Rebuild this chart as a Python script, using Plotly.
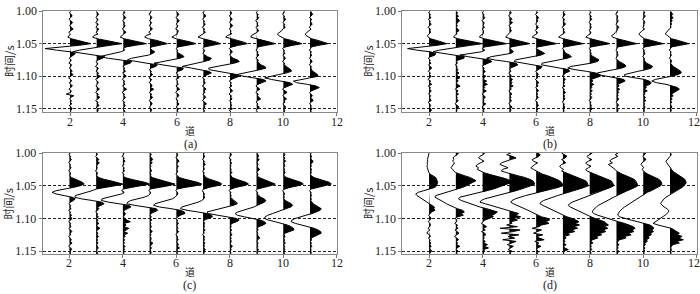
import numpy as np
import plotly.graph_objects as go

# ---------------- data ----------------
trace_numbers = [2, 3, 4, 5, 6, 7, 8, 9, 10, 11]
start_time = 1.0          # s
sample_interval = 0.0025  # s
x_tick_values = [2, 4, 6, 8, 10, 12]
x_tick_labels = ["2", "4", "6", "8", "10", "12"]
y_tick_values = [1.00, 1.05, 1.10, 1.15]
y_tick_labels = ["1.00", "1.05", "1.10", "1.15"]
panel_labels = ["(a)", "(b)", "(c)", "(d)"]
x_title = "道"
y_title = "时间/s"

# amplitudes (in trace-spacing units), 63 samples 1.000 ... 1.155 s, one list per trace 2..11
panel_a = [
    [0.02, -0.03, 0.05, 0.08, 0.02, -0.04, 0.03, 0.10, 0.04,
     -0.02, 0.06, 0.12, 0.03, -0.05, 0.02, -0.05, -0.08, 0.05,
     0.30, 0.58, 0.78, 0.35, -0.40, -0.93, -0.50, 0.02, 0.20,
     0.14, 0.03, -0.03, 0.05, 0.02, -0.04, 0.06, 0.03, -0.02,
     0.04, 0.08, 0.02, 0.12, 0.03, -0.05, 0.02, 0.06, -0.03,
     0.04, 0.09, 0.02, -0.04, 0.05, 0.02, -0.14, 0.14, 0.03,
     -0.02, 0.05, 0.02, 0.07, -0.03, 0.04, 0.08, 0.03, 0.02],
    [-0.02, 0.04, 0.07, 0.02, -0.03, 0.05, 0.03, -0.04, 0.06,
     0.02, -0.03, 0.08, 0.04, -0.02, 0.05, -0.10, -0.15, 0.02,
     0.35, 0.70, 0.95, 0.50, 0.05, -0.30, -0.65, -0.90, -0.55,
     -0.10, 0.30, 0.22, 0.05, -0.03, 0.04, 0.02, -0.05, 0.06,
     0.03, -0.02, 0.07, 0.02, 0.13, 0.04, -0.04, 0.03, 0.06,
     0.02, -0.03, 0.05, 0.10, 0.02, -0.04, 0.06, 0.03, 0.12,
     0.02, -0.04, 0.05, 0.03, 0.09, -0.02, 0.04, 0.06, 0.02],
    [0.03, 0.06, -0.02, 0.04, 0.09, 0.03, -0.03, 0.05, 0.02,
     0.07, 0.03, -0.04, 0.04, 0.10, 0.02, -0.06, -0.12, 0.04,
     0.32, 0.62, 0.87, 0.45, 0.10, 0.00, 0.05, -0.10, -0.35,
     -0.68, -0.90, -0.55, -0.10, 0.32, 0.25, 0.06, -0.02, 0.05,
     0.03, 0.08, -0.03, 0.04, 0.11, 0.02, -0.04, 0.05, 0.02,
     0.06, -0.03, 0.04, 0.12, 0.03, -0.05, 0.04, 0.02, 0.08,
     0.03, -0.03, 0.05, 0.02, 0.07, 0.03, -0.02, 0.04, 0.06],
    [0.05, 0.02, -0.04, 0.03, 0.07, 0.02, -0.02, 0.06, 0.03,
     -0.03, 0.04, 0.09, 0.02, -0.05, 0.03, -0.15, -0.20, -0.05,
     0.25, 0.48, 0.65, 0.35, 0.05, 0.02, 0.08, 0.18, 0.10,
     -0.05, -0.35, -0.70, -0.85, -0.55, -0.12, 0.28, 0.22, 0.05,
     -0.03, 0.05, 0.02, 0.10, 0.04, -0.04, 0.06, 0.02, -0.03,
     0.05, 0.08, 0.02, 0.14, 0.04, -0.03, 0.06, 0.03, 0.10,
     0.02, -0.04, 0.05, 0.08, 0.03, -0.02, 0.04, 0.06, 0.02],
    [-0.02, 0.04, 0.08, 0.03, -0.03, 0.05, 0.10, 0.03, -0.02,
     0.05, 0.02, -0.04, 0.06, 0.03, 0.02, -0.08, -0.18, -0.02,
     0.28, 0.52, 0.72, 0.38, 0.05, -0.03, 0.04, 0.02, 0.08,
     0.20, 0.28, 0.12, -0.22, -0.58, -0.85, -0.55, -0.10, 0.25,
     0.22, 0.06, -0.02, 0.05, 0.03, 0.09, -0.03, 0.04, 0.02,
     0.06, -0.03, 0.05, 0.11, 0.02, -0.04, 0.05, 0.08, 0.02,
     -0.03, 0.05, 0.02, 0.09, 0.03, -0.02, 0.06, 0.03, 0.04],
    [0.04, -0.02, 0.05, 0.09, 0.03, -0.03, 0.04, 0.02, 0.07,
     0.03, -0.04, 0.05, 0.02, 0.08, -0.03, -0.12, -0.20, 0.00,
     0.26, 0.48, 0.65, 0.33, 0.04, -0.02, 0.05, 0.03, -0.02,
     0.06, 0.15, 0.30, 0.25, 0.02, -0.30, -0.62, -0.80, -0.45,
     -0.05, 0.20, 0.30, 0.14, 0.03, -0.03, 0.05, 0.02, 0.07,
     0.03, -0.04, 0.05, 0.10, 0.02, 0.06, -0.02, 0.04, 0.09,
     0.02, -0.03, 0.05, 0.12, 0.03, 0.06, -0.02, 0.04, 0.03],
    [0.02, 0.06, 0.03, -0.03, 0.04, 0.08, 0.02, -0.02, 0.05,
     0.10, 0.03, -0.03, 0.04, 0.02, 0.06, -0.10, -0.16, 0.02,
     0.28, 0.50, 0.65, 0.32, 0.05, -0.03, 0.04, 0.09, 0.03,
     -0.02, 0.05, 0.12, 0.28, 0.35, 0.15, -0.20, -0.55, -0.80,
     -0.78, -0.40, 0.00, 0.25, 0.35, 0.18, 0.04, -0.03, 0.05,
     0.02, 0.07, -0.03, 0.04, 0.10, 0.02, -0.04, 0.05, 0.03,
     0.08, -0.02, 0.04, 0.03, 0.06, 0.02, 0.09, -0.03, 0.04],
    [0.03, -0.02, 0.06, 0.02, 0.08, 0.03, -0.04, 0.04, 0.02,
     0.06, -0.03, 0.03, 0.07, 0.02, -0.08, -0.20, -0.22, 0.02,
     0.30, 0.52, 0.70, 0.35, 0.05, 0.02, -0.03, 0.05, 0.03,
     0.08, 0.02, -0.03, 0.06, 0.04, 0.10, 0.15, 0.30, 0.35,
     0.12, -0.22, -0.55, -0.75, -0.50, -0.08, 0.25, 0.35, 0.18,
     0.04, -0.03, 0.05, 0.12, 0.02, -0.03, 0.06, 0.03, 0.08,
     0.15, 0.03, -0.02, 0.05, 0.02, 0.10, 0.03, -0.03, 0.04],
    [0.05, 0.02, -0.03, 0.04, 0.03, 0.09, 0.02, -0.02, 0.05,
     0.03, 0.07, -0.02, -0.06, -0.15, -0.22, -0.18, -0.08, 0.05,
     0.30, 0.52, 0.70, 0.35, 0.05, -0.03, 0.04, 0.02, 0.06,
     -0.02, 0.04, 0.08, 0.02, -0.03, 0.05, 0.03, 0.10, 0.18,
     0.28, 0.30, 0.12, -0.18, -0.48, -0.70, -0.45, -0.05, 0.25,
     0.35, 0.18, 0.04, -0.03, 0.08, 0.14, 0.03, -0.02, 0.05,
     0.12, 0.03, 0.06, -0.02, 0.04, 0.09, 0.02, 0.05, 0.03],
    [0.02, 0.05, 0.10, 0.03, -0.02, 0.06, 0.02, 0.04, 0.08,
     0.02, -0.03, 0.04, -0.05, -0.12, -0.18, -0.15, -0.05, 0.06,
     0.30, 0.50, 0.68, 0.33, 0.05, 0.02, -0.03, 0.05, 0.02,
     0.06, 0.03, -0.02, 0.04, 0.08, 0.02, -0.03, 0.05, 0.03,
     0.06, 0.10, 0.20, 0.28, 0.30, 0.05, -0.30, -0.62, -0.50,
     -0.10, 0.22, 0.35, 0.20, 0.05, -0.02, 0.04, 0.09, 0.03,
     0.06, 0.12, 0.03, -0.02, 0.05, 0.02, 0.08, 0.03, 0.04],
]

panel_b = [
    [0.03, -0.02, 0.05, 0.02, 0.07, -0.03, 0.04, 0.03, 0.08,
     0.02, -0.04, 0.05, 0.03, 0.06, -0.02, -0.06, -0.03, 0.06,
     0.28, 0.50, 0.66, 0.30, -0.35, -0.80, -0.45, 0.05, 0.25,
     0.22, 0.05, -0.03, 0.04, 0.02, 0.07, -0.02, 0.04, 0.10,
     0.03, -0.03, 0.05, 0.02, 0.08, 0.03, -0.04, 0.06, 0.02,
     0.10, -0.03, 0.05, 0.02, 0.08, 0.03, -0.02, 0.06, 0.02,
     0.04, 0.08, -0.03, 0.03, 0.06, 0.02, 0.05, 0.09, 0.03],
    [0.02, 0.06, 0.03, 0.10, 0.04, 0.08, 0.14, 0.06, 0.03,
     0.05, 0.02, 0.07, 0.12, 0.03, 0.04, -0.05, -0.08, 0.08,
     0.40, 0.75, 1.00, 0.55, 0.10, -0.30, -0.62, -0.85, -0.50,
     -0.05, 0.32, 0.30, 0.10, 0.02, 0.06, -0.02, 0.05, 0.03,
     0.08, 0.02, 0.12, 0.04, 0.06, 0.15, 0.03, 0.09, 0.02,
     0.05, 0.16, 0.04, -0.02, 0.08, 0.03, 0.10, 0.02, 0.05,
     0.03, 0.09, 0.02, -0.03, 0.06, 0.11, 0.03, 0.04, 0.02],
    [0.04, -0.02, 0.05, 0.03, 0.08, 0.02, -0.03, 0.06, 0.03,
     0.02, 0.07, -0.02, 0.04, 0.03, 0.02, -0.08, -0.12, 0.06,
     0.35, 0.68, 0.90, 0.48, 0.08, -0.02, 0.08, -0.05, -0.40,
     -0.85, -0.55, -0.10, 0.25, 0.35, 0.20, 0.05, -0.02, 0.06,
     0.03, 0.10, 0.04, 0.02, 0.12, 0.05, 0.03, 0.15, 0.06,
     0.18, 0.04, 0.08, 0.02, 0.14, 0.05, -0.02, 0.06, 0.10,
     0.03, 0.05, 0.02, 0.12, 0.04, -0.02, 0.06, 0.03, 0.05],
    [0.03, 0.07, 0.02, -0.03, 0.05, 0.09, 0.03, 0.12, 0.04,
     -0.02, 0.05, 0.03, 0.08, 0.02, -0.04, -0.10, -0.14, 0.05,
     0.30, 0.58, 0.77, 0.40, 0.06, 0.03, 0.10, 0.15, 0.05,
     -0.30, -0.68, -0.85, -0.55, -0.10, 0.25, 0.32, 0.20, 0.04,
     0.02, 0.06, -0.02, 0.04, 0.08, 0.03, 0.12, 0.05, 0.10,
     0.04, 0.14, 0.03, 0.07, -0.02, 0.05, 0.09, 0.03, 0.06,
     0.02, 0.08, 0.03, -0.02, 0.05, 0.10, 0.04, 0.06, 0.02],
    [0.02, 0.05, -0.03, 0.04, 0.10, 0.03, 0.06, 0.02, -0.02,
     0.04, 0.08, 0.02, -0.03, 0.05, 0.02, -0.08, -0.15, 0.04,
     0.30, 0.58, 0.76, 0.40, 0.05, 0.00, 0.10, 0.25, 0.32,
     0.18, -0.15, -0.50, -0.78, -0.82, -0.45, 0.00, 0.22, 0.18,
     0.05, -0.02, 0.04, 0.08, 0.02, 0.06, -0.03, 0.05, 0.10,
     0.03, 0.07, -0.02, 0.04, 0.09, 0.02, 0.05, 0.03, 0.08,
     0.02, -0.03, 0.05, 0.04, 0.09, 0.02, 0.06, 0.03, 0.04],
    [0.05, 0.02, 0.08, 0.03, -0.02, 0.06, 0.03, 0.04, 0.10,
     0.03, -0.03, 0.05, 0.02, 0.07, 0.02, -0.10, -0.16, 0.03,
     0.30, 0.58, 0.76, 0.40, 0.06, -0.02, 0.04, 0.06, 0.12,
     0.25, 0.32, 0.15, -0.18, -0.52, -0.78, -0.80, -0.40, 0.00,
     0.22, 0.25, 0.10, 0.03, -0.02, 0.05, 0.09, 0.03, 0.06,
     0.02, 0.08, -0.03, 0.05, 0.03, 0.10, 0.02, 0.06, 0.04,
     0.08, 0.02, -0.02, 0.05, 0.03, 0.07, 0.02, 0.04, 0.03],
    [0.02, 0.04, -0.02, 0.06, 0.03, 0.08, 0.02, -0.03, 0.05,
     0.03, 0.06, 0.02, -0.02, 0.05, 0.02, -0.08, -0.14, 0.04,
     0.30, 0.58, 0.76, 0.40, 0.05, -0.02, 0.04, 0.02, 0.06,
     0.03, 0.12, 0.25, 0.35, 0.28, 0.05, -0.35, -0.70, -0.82,
     -0.55, -0.12, 0.22, 0.38, 0.40, 0.22, 0.06, 0.12, 0.04,
     0.15, 0.05, 0.08, 0.02, 0.10, 0.03, 0.06, 0.02, 0.08,
     0.03, -0.02, 0.05, 0.02, 0.07, 0.03, 0.10, 0.02, 0.04],
    [0.06, 0.02, -0.03, 0.05, 0.03, 0.02, 0.07, 0.03, -0.02,
     0.04, 0.09, 0.03, 0.02, -0.04, -0.08, -0.18, -0.15, 0.04,
     0.30, 0.58, 0.76, 0.40, 0.05, 0.02, -0.02, 0.04, 0.03,
     0.06, 0.02, -0.02, 0.04, 0.10, 0.22, 0.32, 0.35, 0.20,
     -0.10, -0.45, -0.72, -0.70, -0.35, 0.05, 0.28, 0.32, 0.20,
     0.05, 0.10, 0.03, 0.12, 0.04, 0.08, 0.03, 0.06, 0.02,
     0.09, 0.03, -0.02, 0.05, 0.08, 0.02, 0.04, 0.06, 0.03],
    [0.03, 0.05, 0.02, 0.08, 0.03, -0.02, 0.04, 0.06, 0.02,
     0.03, -0.02, 0.05, -0.04, -0.10, -0.16, -0.12, -0.04, 0.05,
     0.30, 0.56, 0.75, 0.40, 0.06, -0.02, 0.04, 0.03, 0.06,
     0.02, -0.02, 0.05, 0.03, 0.07, 0.12, 0.25, 0.35, 0.30,
     0.10, -0.20, -0.52, -0.70, -0.68, -0.30, 0.05, 0.22, 0.30,
     0.25, 0.08, 0.12, 0.03, 0.15, 0.04, 0.06, 0.02, 0.08,
     0.03, 0.10, 0.02, 0.05, 0.03, 0.07, 0.02, 0.04, 0.03],
    [0.02, 0.06, 0.10, 0.04, 0.12, 0.05, 0.08, 0.03, 0.06,
     0.02, 0.04, -0.03, -0.08, -0.15, -0.18, -0.10, -0.03, 0.06,
     0.30, 0.52, 0.70, 0.38, 0.06, 0.02, -0.03, 0.04, 0.02,
     0.05, 0.02, -0.02, 0.04, 0.06, 0.02, 0.08, 0.12, 0.22,
     0.32, 0.40, 0.42, 0.30, 0.05, -0.25, -0.55, -0.68, -0.50,
     -0.15, 0.12, 0.28, 0.35, 0.25, 0.10, 0.05, 0.12, 0.03,
     0.08, 0.03, 0.06, 0.02, 0.04, 0.07, 0.03, 0.05, 0.02],
]

panel_c = [
    [0.03, -0.02, 0.05, 0.02, 0.07, 0.03, -0.03, 0.04, 0.02,
     0.06, 0.02, -0.03, 0.04, 0.03, 0.02, 0.08, 0.20, 0.38,
     0.50, 0.55, 0.40, 0.15, -0.20, -0.50, -0.65, -0.50, -0.20,
     0.10, 0.22, 0.15, 0.03, -0.02, 0.05, 0.02, 0.06, -0.03,
     0.04, 0.02, 0.08, 0.03, 0.10, 0.04, -0.03, 0.05, 0.02,
     0.06, -0.02, 0.04, 0.09, 0.03, 0.05, -0.03, 0.04, 0.07,
     0.03, 0.10, 0.02, -0.03, 0.05, 0.08, 0.03, 0.04, 0.02],
    [0.02, 0.05, -0.02, 0.06, 0.10, 0.04, 0.12, 0.05, 0.02,
     0.04, 0.02, -0.03, 0.05, 0.03, 0.02, 0.10, 0.28, 0.55,
     0.82, 1.00, 0.70, 0.30, 0.00, -0.15, -0.35, -0.60, -0.78,
     -0.80, -0.55, -0.15, 0.20, 0.30, 0.18, 0.05, 0.10, 0.03,
     -0.02, 0.05, 0.03, 0.08, 0.02, 0.06, 0.03, 0.10, 0.02,
     0.05, 0.14, 0.04, 0.02, 0.06, 0.03, 0.09, 0.02, 0.05,
     0.03, 0.07, 0.02, 0.04, 0.08, 0.03, 0.02, 0.05, 0.03],
    [0.04, 0.02, -0.03, 0.05, 0.03, 0.08, 0.02, 0.04, -0.02,
     0.05, 0.03, 0.06, -0.02, 0.04, 0.02, 0.08, 0.30, 0.58,
     0.85, 1.00, 0.72, 0.32, 0.02, -0.05, 0.05, -0.05, -0.30,
     -0.60, -0.78, -0.80, -0.55, -0.15, 0.25, 0.30, 0.15, 0.05,
     0.03, 0.10, 0.06, 0.02, 0.08, 0.15, 0.28, 0.05, 0.12,
     0.04, 0.22, 0.10, 0.03, 0.18, 0.05, 0.08, 0.02, 0.06,
     0.03, 0.05, 0.02, 0.08, 0.03, 0.06, 0.02, 0.04, 0.03],
    [0.03, 0.06, 0.02, 0.08, 0.12, 0.04, 0.10, 0.03, 0.05,
     0.02, 0.04, 0.07, 0.02, 0.05, 0.03, 0.10, 0.30, 0.55,
     0.80, 0.95, 0.70, 0.30, 0.02, -0.03, 0.04, 0.02, -0.05,
     -0.20, -0.45, -0.70, -0.82, -0.85, -0.55, -0.10, 0.25, 0.30,
     0.15, 0.05, 0.02, 0.06, 0.03, 0.08, 0.02, 0.05, 0.03,
     0.07, 0.02, 0.04, 0.10, 0.03, 0.05, 0.02, 0.06, 0.04,
     0.03, 0.12, 0.05, 0.02, 0.07, 0.03, 0.04, 0.06, 0.02],
    [0.02, 0.05, 0.03, -0.02, 0.06, 0.10, 0.04, 0.02, 0.07,
     0.03, 0.02, 0.05, 0.03, -0.02, 0.04, 0.12, 0.32, 0.58,
     0.82, 0.95, 0.72, 0.32, 0.03, -0.02, 0.04, 0.06, 0.02,
     -0.05, -0.15, -0.35, -0.60, -0.80, -0.85, -0.62, -0.20, 0.15,
     0.30, 0.32, 0.15, 0.04, -0.02, 0.05, 0.03, 0.08, 0.02,
     0.04, 0.06, 0.02, 0.09, 0.03, -0.02, 0.05, 0.03, 0.07,
     0.02, 0.04, 0.08, 0.03, 0.12, 0.02, 0.05, 0.03, 0.04],
    [0.04, 0.02, 0.06, 0.03, -0.02, 0.05, 0.03, 0.08, 0.02,
     0.03, 0.05, -0.02, 0.04, 0.02, 0.06, 0.10, 0.25, 0.45,
     0.62, 0.70, 0.52, 0.22, 0.02, -0.03, 0.02, 0.05, 0.03,
     0.06, 0.02, -0.05, -0.18, -0.40, -0.62, -0.80, -0.85, -0.60,
     -0.20, 0.15, 0.32, 0.35, 0.20, 0.05, 0.02, 0.06, 0.03,
     0.05, 0.02, 0.08, 0.03, 0.04, -0.02, 0.06, 0.03, 0.05,
     0.02, 0.07, 0.03, 0.05, 0.02, 0.09, 0.03, 0.04, 0.02],
    [0.03, 0.06, 0.02, -0.03, 0.05, 0.02, 0.07, 0.03, 0.04,
     0.02, 0.05, 0.03, 0.08, 0.02, 0.05, 0.10, 0.25, 0.45,
     0.62, 0.70, 0.52, 0.22, 0.03, -0.02, 0.04, 0.02, 0.05,
     0.03, 0.08, 0.15, 0.25, 0.28, 0.12, -0.15, -0.42, -0.68,
     -0.85, -0.80, -0.45, -0.05, 0.25, 0.35, 0.25, 0.08, 0.03,
     0.05, 0.02, 0.07, 0.03, 0.04, 0.08, 0.02, 0.05, 0.03,
     0.06, 0.02, 0.04, 0.10, 0.03, 0.05, 0.02, 0.04, 0.03],
    [0.02, 0.05, 0.08, 0.03, 0.10, 0.04, 0.02, 0.06, 0.03,
     0.05, 0.12, 0.04, 0.02, 0.06, 0.03, 0.10, 0.25, 0.45,
     0.62, 0.70, 0.52, 0.22, 0.03, -0.02, 0.04, 0.03, 0.08,
     0.15, 0.28, 0.35, 0.30, 0.12, 0.02, -0.10, -0.30, -0.50,
     -0.70, -0.80, -0.72, -0.45, -0.10, 0.15, 0.30, 0.35, 0.25,
     0.08, 0.03, 0.06, 0.02, 0.05, 0.03, 0.08, 0.12, 0.04,
     0.02, 0.06, 0.03, 0.05, 0.02, 0.08, 0.03, 0.04, 0.02],
    [0.03, 0.06, 0.02, 0.05, 0.03, 0.09, 0.02, 0.04, 0.06,
     0.02, 0.05, 0.03, 0.07, 0.02, 0.04, 0.12, 0.30, 0.50,
     0.68, 0.75, 0.55, 0.25, 0.04, -0.02, 0.03, 0.05, 0.02,
     0.04, 0.02, 0.08, 0.18, 0.30, 0.35, 0.28, 0.10, -0.05,
     -0.20, -0.40, -0.58, -0.68, -0.70, -0.55, -0.30, -0.05, 0.15,
     0.30, 0.38, 0.40, 0.22, 0.06, 0.03, 0.07, 0.02, 0.05,
     0.03, 0.08, 0.02, 0.05, 0.03, 0.06, 0.02, 0.04, 0.03],
    [0.04, 0.02, 0.06, 0.03, 0.05, 0.12, 0.08, 0.03, 0.05,
     0.02, 0.06, 0.03, 0.05, 0.02, 0.06, 0.15, 0.35, 0.58,
     0.74, 0.80, 0.58, 0.26, 0.05, -0.02, 0.04, 0.03, 0.06,
     0.02, 0.05, 0.03, 0.08, 0.12, 0.22, 0.35, 0.42, 0.38,
     0.25, 0.08, -0.15, -0.38, -0.55, -0.68, -0.70, -0.55, -0.30,
     -0.05, 0.15, 0.30, 0.40, 0.42, 0.30, 0.12, 0.04, 0.06,
     0.02, 0.05, 0.03, 0.07, 0.02, 0.04, 0.03, 0.05, 0.02],
]

panel_d = [
    [0.00, -0.02, -0.04, -0.05, -0.06, -0.05, -0.07, -0.06, -0.08,
     -0.06, -0.05, -0.03, 0.00, 0.04, 0.15, 0.25, 0.28, 0.30,
     0.32, 0.30, 0.28, 0.22, 0.05, -0.20, -0.40, -0.50, -0.45,
     -0.35, -0.25, -0.15, -0.08, 0.02, 0.12, 0.20, 0.18, 0.22,
     0.10, 0.03, -0.02, 0.04, 0.08, 0.02, -0.03, 0.03, 0.05,
     0.02, -0.04, 0.03, -0.05, -0.08, 0.02, 0.05, -0.03, 0.04,
     0.02, 0.06, 0.03, 0.08, 0.02, 0.05, 0.10, 0.03, 0.02],
    [0.10, 0.05, -0.05, -0.10, -0.08, -0.12, -0.05, -0.10, -0.15,
     -0.18, -0.12, -0.08, 0.00, 0.15, 0.35, 0.55, 0.68, 0.75,
     0.62, 0.52, 0.40, 0.25, 0.05, -0.15, -0.40, -0.60, -0.75,
     -0.78, -0.65, -0.55, -0.45, -0.35, -0.22, -0.10, 0.05, 0.25,
     0.32, 0.20, 0.28, 0.05, -0.03, 0.04, 0.02, -0.04, 0.06,
     0.03, 0.08, -0.03, 0.05, 0.12, 0.03, -0.05, 0.04, 0.10,
     0.02, 0.06, 0.03, 0.15, 0.04, 0.02, 0.08, 0.03, 0.05],
    [0.08, 0.02, -0.10, -0.15, -0.05, 0.05, -0.08, -0.20, -0.25,
     -0.15, -0.20, -0.10, 0.05, 0.25, 0.50, 0.75, 0.92, 1.05,
     1.10, 0.90, 0.75, 0.58, 0.40, 0.15, -0.10, -0.40, -0.65,
     -0.85, -0.90, -0.80, -0.62, -0.45, -0.30, -0.10, 0.15, 0.40,
     0.55, 0.48, 0.35, 0.40, 0.20, 0.08, 0.02, -0.05, 0.06,
     0.15, 0.03, 0.10, -0.04, 0.08, 0.12, 0.03, 0.06, 0.02,
     0.10, 0.04, 0.18, 0.05, 0.22, 0.03, 0.08, 0.02, 0.04],
    [0.05, -0.10, 0.10, 0.25, 0.05, -0.15, -0.30, -0.35, -0.20,
     -0.05, -0.25, -0.30, -0.10, 0.10, 0.35, 0.60, 0.78, 0.88,
     0.92, 0.95, 0.80, 0.65, 0.45, 0.25, 0.02, -0.25, -0.50,
     -0.75, -0.92, -1.05, -1.10, -0.90, -0.70, -0.50, -0.30, -0.10,
     0.15, 0.35, 0.20, 0.42, 0.15, 0.30, 0.05, 0.10, -0.10,
     0.30, -0.35, 0.40, 0.15, -0.30, 0.35, -0.05, 0.20, -0.25,
     0.25, 0.05, -0.08, 0.15, 0.03, -0.05, 0.10, 0.03, 0.05],
    [0.05, 0.15, 0.10, -0.05, -0.15, -0.10, 0.05, -0.05, -0.15,
     -0.20, -0.10, 0.00, 0.10, 0.25, 0.45, 0.62, 0.78, 0.88,
     0.95, 0.98, 1.00, 0.82, 0.60, 0.35, 0.10, -0.15, -0.40,
     -0.60, -0.78, -0.90, -0.95, -0.85, -0.70, -0.55, -0.42, -0.30,
     -0.18, -0.05, 0.05, 0.20, 0.45, 0.50, 0.35, 0.48, 0.20,
     0.10, -0.15, 0.20, 0.05, -0.10, 0.25, 0.03, 0.12, 0.30,
     -0.05, 0.10, 0.03, 0.18, 0.05, 0.02, 0.08, 0.04, 0.03],
    [-0.05, 0.05, 0.15, 0.08, -0.05, 0.05, 0.10, -0.05, -0.12,
     -0.08, 0.02, -0.05, 0.10, 0.25, 0.42, 0.60, 0.75, 0.85,
     0.90, 0.93, 0.95, 0.80, 0.62, 0.42, 0.20, 0.00, -0.20,
     -0.40, -0.58, -0.72, -0.82, -0.86, -0.75, -0.62, -0.50, -0.38,
     -0.25, -0.12, 0.00, 0.15, 0.35, 0.50, 0.60, 0.45, 0.62,
     0.40, 0.55, 0.30, 0.45, 0.18, 0.25, 0.05, 0.12, 0.03,
     0.08, 0.02, 0.12, 0.03, 0.06, 0.20, 0.04, 0.02, 0.05],
    [0.10, 0.02, -0.10, -0.05, 0.08, -0.05, -0.15, -0.10, 0.05,
     -0.05, -0.15, -0.10, 0.05, 0.20, 0.38, 0.55, 0.70, 0.80,
     0.85, 0.88, 0.90, 0.78, 0.62, 0.45, 0.25, 0.08, -0.08,
     -0.22, -0.38, -0.52, -0.65, -0.75, -0.80, -0.72, -0.60, -0.48,
     -0.35, -0.22, -0.10, 0.05, 0.20, 0.38, 0.55, 0.62, 0.70,
     0.55, 0.68, 0.50, 0.60, 0.40, 0.45, 0.25, 0.30, 0.10,
     0.05, 0.12, 0.02, 0.06, 0.03, 0.08, 0.02, 0.05, 0.03],
    [0.05, -0.05, 0.05, -0.10, -0.20, -0.25, -0.15, -0.30, -0.20,
     -0.10, -0.05, 0.00, 0.10, 0.22, 0.38, 0.52, 0.65, 0.72,
     0.76, 0.78, 0.80, 0.70, 0.55, 0.40, 0.25, 0.10, 0.02,
     -0.10, -0.22, -0.35, -0.48, -0.58, -0.68, -0.75, -0.82, -0.88,
     -0.90, -0.85, -0.70, -0.52, -0.32, -0.12, 0.08, 0.30, 0.50,
     0.62, 0.70, 0.58, 0.65, 0.45, 0.55, 0.30, 0.35, 0.12,
     0.05, 0.02, 0.10, 0.03, 0.06, 0.02, 0.08, 0.04, 0.02],
    [0.10, 0.05, -0.02, 0.05, 0.10, 0.03, -0.05, -0.08, -0.03,
     0.02, -0.05, 0.00, 0.08, 0.18, 0.32, 0.45, 0.58, 0.65,
     0.68, 0.70, 0.65, 0.55, 0.42, 0.30, 0.15, 0.05, -0.05,
     -0.15, -0.25, -0.35, -0.45, -0.55, -0.62, -0.70, -0.78, -0.85,
     -0.90, -0.93, -0.95, -0.88, -0.70, -0.45, -0.20, 0.05, 0.25,
     0.35, 0.40, 0.32, 0.38, 0.28, 0.30, 0.18, 0.22, 0.12,
     0.15, 0.05, 0.08, 0.02, 0.06, 0.03, 0.05, 0.02, 0.04],
    [0.02, 0.05, 0.00, -0.05, -0.10, -0.15, -0.12, -0.08, -0.03,
     0.00, 0.05, 0.10, 0.18, 0.28, 0.38, 0.48, 0.55, 0.58,
     0.60, 0.58, 0.52, 0.45, 0.35, 0.25, 0.12, 0.02, -0.08,
     -0.15, -0.22, -0.28, -0.32, -0.35, -0.30, -0.22, -0.12, -0.05,
     -0.05, -0.10, -0.18, -0.28, -0.38, -0.48, -0.58, -0.63, -0.45,
     -0.20, 0.05, 0.15, 0.25, 0.35, 0.28, 0.45, 0.30, 0.50,
     0.25, 0.35, 0.10, 0.05, 0.02, 0.06, 0.03, 0.04, 0.02],
]

panels = [panel_a, panel_b, panel_c, panel_d]

# ---------------- layout geometry (paper fractions) ----------------
W, H = 700, 294
x_domains = [[0.0619, 0.4810], [0.5747, 0.9954], [0.0610, 0.4810], [0.5747, 0.9954]]
y_domains = [[0.629, 0.9854], [0.629, 0.9854], [0.1255, 0.4840], [0.1255, 0.4840]]
# pixel offsets below each panel for: tick labels, axis title, caption
below_offsets = [(10, 19, 33.5), (10, 19, 33.5), (9, 18, 31.5), (9, 18, 31.5)]

serif = "Liberation Serif, Times New Roman, serif"
cjk = "Noto Sans CJK SC, sans-serif"

fig = go.Figure()


def build_wiggle(k, vals):
    v = np.asarray(vals, dtype=float)
    t = start_time + sample_interval * np.arange(len(v))
    fx, fy = [], []
    for i in range(len(v)):
        if i > 0 and ((v[i - 1] > 0) != (v[i] > 0)):
            f = v[i - 1] / (v[i - 1] - v[i])
            fy.append(t[i - 1] + f * sample_interval)
            fx.append(k)
        fy.append(t[i])
        fx.append(k + max(v[i], 0.0))
    poly_x = fx + [k, k]
    poly_y = fy + [fy[-1], fy[0]]
    return list(k + v), list(t), poly_x, poly_y


for p, data in enumerate(panels):
    xa = "x" if p == 0 else f"x{p + 1}"
    ya = "y" if p == 0 else f"y{p + 1}"
    lx, ly, px, py = [], [], [], []
    for k, vals in zip(trace_numbers, data):
        a, b, c, d = build_wiggle(k, vals)
        lx += a + [None]
        ly += b + [None]
        px += c + [None]
        py += d + [None]
    fig.add_trace(go.Scatter(x=px, y=py, xaxis=xa, yaxis=ya, mode="lines",
                             fill="toself", fillcolor="black",
                             line=dict(width=0, color="black"),
                             hoverinfo="skip", showlegend=False))
    fig.add_trace(go.Scatter(x=lx, y=ly, xaxis=xa, yaxis=ya, mode="lines",
                             line=dict(width=1, color="black"),
                             hoverinfo="skip", showlegend=False))

layout = dict(width=W, height=H, autosize=False,
              margin=dict(l=0, r=0, t=0, b=0),
              paper_bgcolor="white", plot_bgcolor="white",
              showlegend=False)

annotations = []
for p in range(4):
    xs = "xaxis" if p == 0 else f"xaxis{p + 1}"
    ys = "yaxis" if p == 0 else f"yaxis{p + 1}"
    ya = "y" if p == 0 else f"y{p + 1}"
    xa = "x" if p == 0 else f"x{p + 1}"
    layout[xs] = dict(domain=x_domains[p], anchor=ya, range=[1, 12],
                      tickvals=x_tick_values, ticks="outside", ticklen=3,
                      tickcolor="#777", showline=True, linecolor="#888",
                      linewidth=1, mirror=True, showgrid=False, zeroline=False,
                      showticklabels=False)
    layout[ys] = dict(domain=y_domains[p], anchor=xa, range=[1.155, 1.0],
                      tickvals=y_tick_values, ticktext=y_tick_labels,
                      ticks="outside", ticklen=3, tickcolor="#777",
                      showline=True, linecolor="#888", linewidth=1, mirror=True,
                      showgrid=True, gridcolor="#222", gridwidth=1, griddash="3px,2px",
                      zeroline=False,
                      tickfont=dict(family=serif, size=12, color="#222"))
    xc = (x_domains[p][0] + x_domains[p][1]) / 2
    ymid = (y_domains[p][0] + y_domains[p][1]) / 2
    ybot = y_domains[p][0]
    o_tick, o_title, o_cap = below_offsets[p]
    right_edge_panel = x_domains[p][1] > 0.99
    for tv, tl in zip(x_tick_values, x_tick_labels):
        at_edge = right_edge_panel and tv == x_tick_values[-1]
        annotations.append(dict(text=tl, xref=xa, yref="paper", x=tv,
                                xshift=-3 if at_edge else 0,
                                y=ybot - o_tick / H, showarrow=False,
                                font=dict(family=serif, size=12, color="#222"),
                                xanchor="center", yanchor="middle"))
    annotations.append(dict(text=y_title, xref="paper", yref="paper",
                            x=x_domains[p][0] - 35 / W, y=ymid, textangle=-90,
                            showarrow=False,
                            font=dict(family=cjk, size=11, color="#222"),
                            xanchor="center", yanchor="middle"))
    annotations.append(dict(text=x_title, xref="paper", yref="paper",
                            x=xc, y=ybot - o_title / H, showarrow=False,
                            font=dict(family=cjk, size=10, color="#222"),
                            xanchor="center", yanchor="middle"))
    annotations.append(dict(text=panel_labels[p], xref="paper", yref="paper",
                            x=xc, y=ybot - o_cap / H, showarrow=False,
                            font=dict(family=serif, size=12, color="#222"),
                            xanchor="center", yanchor="middle"))

layout["annotations"] = annotations
fig.update_layout(**layout)
fig.write_html("out.html", config={"displayModeBar": False},
               post_script="document.body.style.margin='0';document.body.style.overflow='hidden';")
